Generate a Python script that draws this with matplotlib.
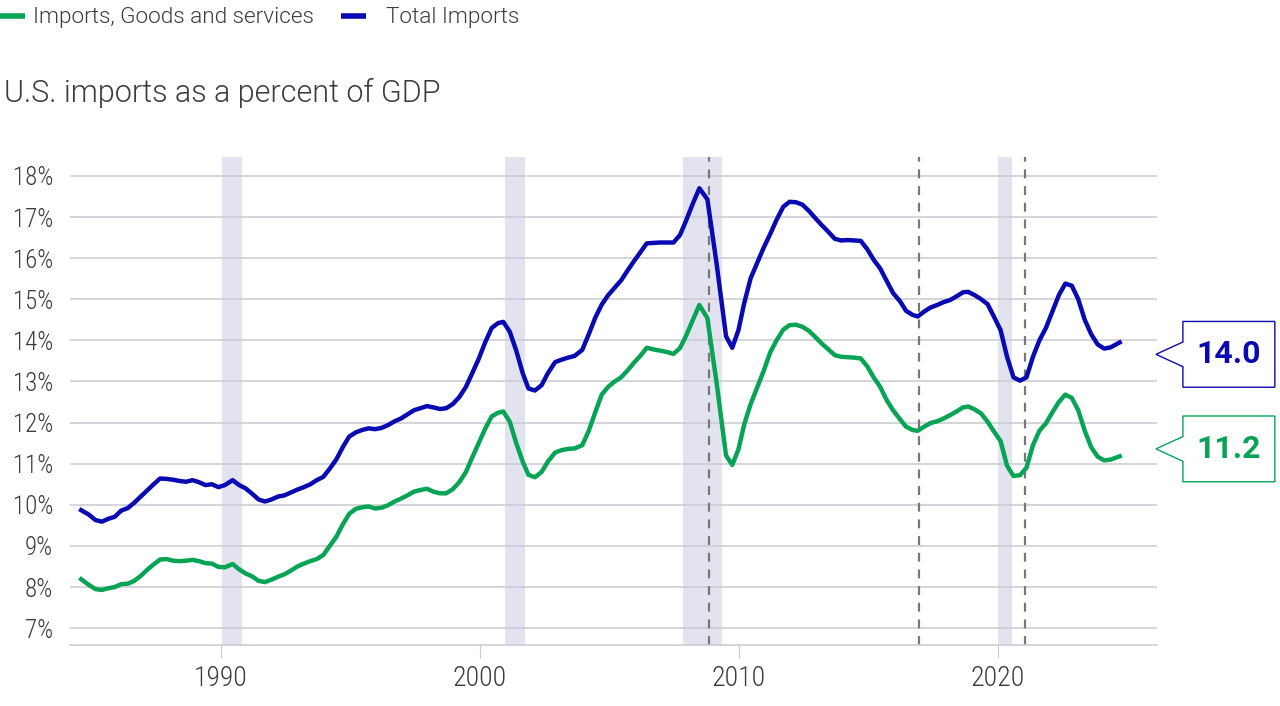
import matplotlib
matplotlib.use("Agg")
import matplotlib.pyplot as plt
from matplotlib.lines import Line2D
from matplotlib.patches import Polygon

# quarterly-ish readings, U.S. imports as % of GDP
years = [
    1984.6, 1984.9, 1985.15, 1985.4, 1985.65, 1985.9, 1986.15, 1986.4, 1986.65, 1986.9,
    1987.15, 1987.4, 1987.65, 1987.9, 1988.15, 1988.4, 1988.65, 1988.9, 1989.15, 1989.4,
    1989.65, 1989.9, 1990.15, 1990.45, 1990.7, 1990.95, 1991.2, 1991.45, 1991.7, 1991.95,
    1992.2, 1992.45, 1992.7, 1992.95, 1993.2, 1993.45, 1993.7, 1993.95, 1994.2, 1994.45,
    1994.7, 1994.95, 1995.2, 1995.45, 1995.7, 1995.95, 1996.2, 1996.45, 1996.7, 1996.95,
    1997.2, 1997.45, 1997.7, 1997.95, 1998.2, 1998.45, 1998.7, 1998.95, 1999.2, 1999.45,
    1999.7, 1999.95, 2000.2, 2000.45, 2000.7, 2000.9, 2001.15, 2001.4, 2001.65, 2001.87,
    2002.12, 2002.38, 2002.62, 2002.9, 2003.15, 2003.4, 2003.65, 2003.95, 2004.2, 2004.45,
    2004.7, 2004.95, 2005.2, 2005.45, 2005.7, 2005.95, 2006.2, 2006.44, 2006.7, 2006.95,
    2007.2, 2007.47, 2007.72, 2007.95, 2008.2, 2008.47, 2008.78, 2009.15, 2009.5, 2009.74,
    2009.98, 2010.2, 2010.45, 2010.7, 2010.95, 2011.2, 2011.45, 2011.71, 2011.95, 2012.2,
    2012.45, 2012.7, 2012.95, 2013.2, 2013.45, 2013.7, 2013.95, 2014.2, 2014.45, 2014.7,
    2014.95, 2015.2, 2015.45, 2015.7, 2015.95, 2016.22, 2016.45, 2016.7, 2016.9, 2017.15,
    2017.4, 2017.65, 2017.9, 2018.15, 2018.4, 2018.65, 2018.85, 2019.1, 2019.35, 2019.6,
    2019.85, 2020.1, 2020.35, 2020.6, 2020.85, 2021.1, 2021.35, 2021.6, 2021.85, 2022.1,
    2022.35, 2022.6, 2022.85, 2023.1, 2023.35, 2023.6, 2023.85, 2024.1, 2024.35, 2024.7,
]
total_imports = [
    9.87, 9.76, 9.63, 9.59, 9.66, 9.71, 9.86, 9.92, 10.05, 10.2,
    10.35, 10.5, 10.64, 10.63, 10.61, 10.58, 10.56, 10.6, 10.55, 10.48,
    10.5, 10.43, 10.48, 10.6, 10.48, 10.4, 10.27, 10.13, 10.08, 10.13,
    10.2, 10.23, 10.3, 10.37, 10.43, 10.5, 10.6, 10.68, 10.88, 11.1,
    11.4, 11.66, 11.76, 11.82, 11.86, 11.84, 11.87, 11.94, 12.03, 12.1,
    12.2, 12.3, 12.35, 12.4, 12.37, 12.33, 12.35, 12.45, 12.62, 12.86,
    13.2, 13.55, 13.95, 14.3, 14.42, 14.45, 14.21, 13.75, 13.2, 12.83,
    12.78, 12.91, 13.2, 13.47, 13.53, 13.58, 13.62, 13.77, 14.15, 14.55,
    14.87, 15.1, 15.28, 15.46, 15.7, 15.93, 16.15, 16.36, 16.37, 16.38,
    16.38, 16.38, 16.56, 16.9, 17.3, 17.7, 17.43, 15.8, 14.1, 13.82,
    14.25, 14.9, 15.51, 15.88, 16.25, 16.58, 16.93, 17.25, 17.37, 17.36,
    17.3, 17.15, 16.97, 16.8, 16.64, 16.47, 16.43, 16.44, 16.43, 16.42,
    16.22, 15.96, 15.75, 15.45, 15.15, 14.95, 14.72, 14.62, 14.58, 14.7,
    14.8, 14.86, 14.93, 14.98, 15.07, 15.17, 15.18, 15.1, 15.0, 14.88,
    14.57, 14.25, 13.6, 13.1, 13.02, 13.1, 13.6, 14.0, 14.3, 14.7,
    15.1, 15.38, 15.33, 15.0, 14.5, 14.15, 13.9, 13.8, 13.83, 13.95,
]
goods_services = [
    8.19, 8.05, 7.95, 7.93, 7.97, 8.0, 8.07, 8.08, 8.15, 8.27,
    8.42, 8.55, 8.67, 8.68, 8.64, 8.63, 8.64, 8.66, 8.63, 8.58,
    8.57, 8.49, 8.48, 8.56, 8.43, 8.33, 8.26, 8.15, 8.12, 8.18,
    8.25, 8.31, 8.4, 8.5, 8.57, 8.63, 8.68, 8.78, 9.0, 9.22,
    9.52, 9.78, 9.9, 9.94, 9.96, 9.91, 9.93, 9.99, 10.08, 10.15,
    10.23, 10.32, 10.36, 10.39, 10.32, 10.28, 10.28, 10.38, 10.55, 10.79,
    11.15, 11.5, 11.85, 12.15, 12.24, 12.27, 12.02, 11.5, 11.05, 10.73,
    10.67, 10.8, 11.05, 11.27, 11.33, 11.36, 11.37, 11.45, 11.8, 12.25,
    12.68, 12.87, 13.0, 13.1, 13.27, 13.46, 13.63, 13.82, 13.78, 13.75,
    13.72, 13.67, 13.81, 14.1, 14.47, 14.86, 14.54, 12.9, 11.2, 10.97,
    11.35, 11.95, 12.45, 12.85, 13.25, 13.7, 14.0, 14.26, 14.37, 14.38,
    14.33, 14.23, 14.08, 13.92, 13.78, 13.64, 13.6, 13.59, 13.58, 13.56,
    13.37, 13.1, 12.87, 12.55, 12.3, 12.08, 11.9, 11.82, 11.8, 11.9,
    11.99, 12.03, 12.1, 12.18, 12.27, 12.37, 12.39, 12.32, 12.22, 12.02,
    11.78, 11.55, 10.95, 10.7, 10.72, 10.9, 11.45, 11.8, 11.98, 12.25,
    12.5, 12.68, 12.6, 12.3, 11.8, 11.4, 11.17, 11.08, 11.1, 11.18,
]

recessions = [(1990.04, 1990.81), (2000.97, 2001.74), (2007.84, 2009.34), (2020.0, 2020.54)]
transitions = [2008.85, 2016.95, 2021.05]

series_names = ["Imports, Goods and services", "Total Imports"]
end_labels = ["11.2", "14.0"]

GREEN = "#07A455"
BLUE = "#0A0AB2"
TEXT = "#3c3c3c"
WIDE = ["Roboto", "DejaVu Sans"]

plt.rcParams["font.family"] = ["Roboto Condensed", "Barlow Semi Condensed", "DejaVu Sans"]
plt.rcParams["font.weight"] = 300

fig = plt.figure(figsize=(12.8, 7.06), dpi=100)
ax = fig.add_axes([70 / 1280, 1 - 645 / 706, (1157 - 70) / 1280, (645 - 157) / 706])

ax.set_xlim(1984.17, 2026.14)
ax.set_ylim(6.59, 18.46)

for a, b in recessions:
    ax.axvspan(a, b, color="#E3E3F0", lw=0, zorder=0)

for t in range(7, 19):
    ax.axhline(t, color="#C9C9D2", lw=1.1, zorder=1)

for t in transitions:
    ax.axvline(t, color="#777777", lw=1.6, dashes=(4, 3.5), zorder=2)

ax.plot(years, goods_services, color=GREEN, lw=3.2, zorder=3, solid_joinstyle="round")
ax.plot(years, total_imports, color=BLUE, lw=3.2, zorder=3, solid_joinstyle="round")

for s in ["top", "right", "left"]:
    ax.spines[s].set_visible(False)
ax.spines["bottom"].set_color("#C9C9D2")
ax.spines["bottom"].set_linewidth(1.1)

ax.set_xticks([1990, 2000, 2010, 2020])
ax.set_yticks(range(7, 19))
ax.set_yticklabels(["{}%".format(v) for v in range(7, 19)])
ax.tick_params(axis="x", length=9, width=0.8, color="#C9C9D2", labelsize=20,
               labelcolor=TEXT, pad=5.5)
ax.tick_params(axis="y", length=0, labelsize=18, labelcolor=TEXT, pad=12)

# callouts with latest values
def callout(y_last, nudge, text, color):
    yc = y_last + nudge
    tip, x0, x1 = 2026.1, 2027.14, 2030.69
    pts = [(tip, yc), (x0, yc + 0.30), (x0, yc + 0.80), (x1, yc + 0.80),
           (x1, yc - 0.80), (x0, yc - 0.80), (x0, yc - 0.30)]
    ax.add_patch(Polygon(pts, closed=True, facecolor="white", edgecolor=color,
                         lw=1.0, clip_on=False, zorder=5))
    ax.text((x0 + x1) / 2, yc, text, color=color, fontsize=23, fontweight="bold",
            ha="center", va="center", clip_on=False, zorder=6, family=WIDE)

callout(total_imports[-1], -0.29, end_labels[1], BLUE)
callout(goods_services[-1], 0.18, end_labels[0], GREEN)

# title and legend
fig.text(4 / 1280, 1 - 102 / 706, "U.S. imports as a percent of GDP", fontsize=22,
         color=TEXT, ha="left", va="baseline", family=WIDE)

fig.add_artist(Line2D([0 / 1280, 25 / 1280], [1 - 16 / 706] * 2, color=GREEN, lw=4,
                      solid_capstyle="butt"))
fig.text(33 / 1280, 1 - 17 / 706, series_names[0], fontsize=16.2, color=TEXT,
         ha="left", va="center", family=WIDE)
fig.add_artist(Line2D([341 / 1280, 366 / 1280], [1 - 16 / 706] * 2, color=BLUE, lw=4,
                      solid_capstyle="butt"))
fig.text(386 / 1280, 1 - 17 / 706, series_names[1], fontsize=16.2, color=TEXT,
         ha="left", va="center", family=WIDE)

fig.savefig("out.png", dpi=100)
